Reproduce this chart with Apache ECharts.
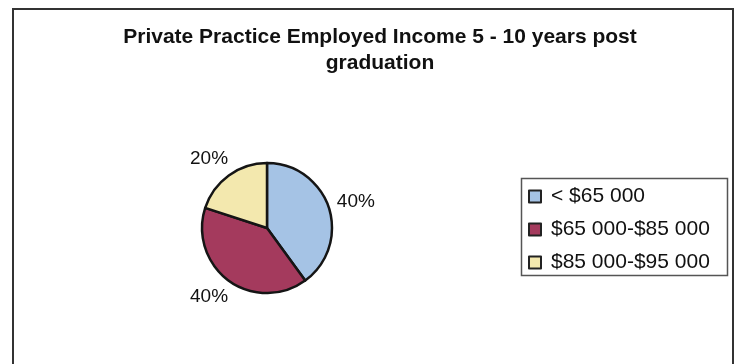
<!DOCTYPE html>
<html>
<head>
<meta charset="utf-8">
<script src="https://cdn.jsdelivr.net/npm/echarts@6/dist/echarts.min.js"></script>
<style>
  html, body { margin: 0; padding: 0; background: #fff; }
  #chart { width: 739px; height: 364px; }
</style>
</head>
<body>
<div id="chart"></div>
<script>
// Income brackets and their share of respondents (percent)
const categories = ['< $65 000', '$65 000-$85 000', '$85 000-$95 000'];
const shares = [40, 40, 20];
const sliceColors = ['#a5c3e5', '#a43a5d', '#f3e8ae'];
const chartTitle = 'Private Practice Employed Income 5 - 10 years post\ngraduation';

const chart = echarts.init(document.getElementById('chart'), null, { renderer: 'canvas' });

const font = '"Liberation Sans", Arial, sans-serif';

chart.setOption({
  backgroundColor: '#ffffff',
  animation: false,
  title: {
    text: chartTitle,
    left: 375,
    top: 19,
    textAlign: 'center',
    textStyle: {
      fontFamily: font,
      fontWeight: 'bold',
      fontSize: 21,
      lineHeight: 26,
      color: '#111'
    }
  },
  graphic: [
    {
      // outer chart frame
      type: 'rect',
      shape: { x: 13, y: 9, width: 720, height: 380 },
      style: { fill: 'none', stroke: '#333', lineWidth: 2 },
      silent: true
    },
    {
      // legend frame
      type: 'rect',
      shape: { x: 521.5, y: 178.5, width: 206, height: 97 },
      style: { fill: 'none', stroke: '#555', lineWidth: 1.5 },
      silent: true
    }
  ],
  legend: {
    orient: 'vertical',
    left: 528,
    top: 186,
    padding: 0,
    itemGap: 12,
    itemWidth: 12,
    itemHeight: 12,
    icon: 'rect',
    itemStyle: { borderColor: '#222', borderWidth: 2 },
    textStyle: {
      fontFamily: font,
      fontSize: 21,
      lineHeight: 21,
      color: '#111',
      padding: [0, 0, 0, 5]
    },
    data: categories
  },
  series: [{
    type: 'pie',
    center: [267, 228],
    radius: 65,
    startAngle: 90,
    clockwise: true,
    avoidLabelOverlap: false,
    itemStyle: { borderColor: '#151515', borderWidth: 2.5 },
    label: {
      show: true,
      position: 'outside',
      formatter: '{c}%',
      fontFamily: font,
      fontSize: 19,
      color: '#111',
      distanceToLabelLine: -11
    },
    labelLine: { show: false, length: 20, length2: 0 },
    emphasis: { disabled: true },
    data: categories.map((name, i) => ({
      name: name,
      value: shares[i],
      itemStyle: { color: sliceColors[i] }
    }))
  }]
});
</script>
</body>
</html>
